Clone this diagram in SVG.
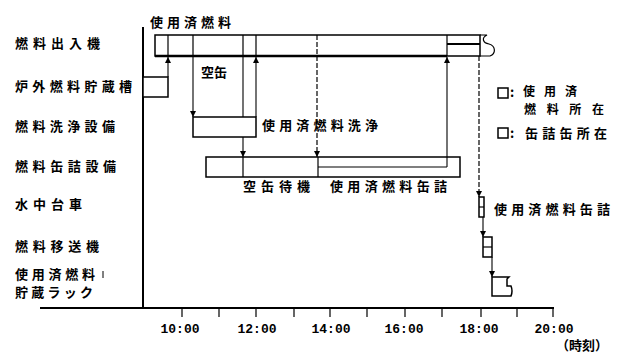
<svg xmlns="http://www.w3.org/2000/svg" width="618" height="356" viewBox="0 0 618 356">
<style>
.t{font-family:"Noto Sans CJK JP","Noto Sans CJK SC",sans-serif;font-size:13px;font-weight:700;fill:#000}
.s{font-size:12px}
.n{font-family:"Liberation Mono",monospace;font-size:13px;font-weight:700;fill:#000;text-anchor:middle}
.b{fill:#fff;stroke:#000;stroke-width:1.5}
.l{stroke:#000;stroke-width:1.2;fill:none}
.d{stroke:#000;stroke-width:1.2;fill:none;stroke-dasharray:5 2}
.c{stroke:#000;stroke-width:1.1;fill:none}
</style>
<defs>
<marker id="ah" viewBox="0 0 8 8" refX="8" refY="4" markerWidth="6" markerHeight="7" markerUnits="userSpaceOnUse" orient="auto"><path d="M0,0 L8,4 L0,8 z" fill="#000"/></marker>
</defs>
<rect width="618" height="356" fill="#fff"/>

<g id="axis">
<line x1="40" y1="308" x2="554" y2="308" stroke="#000" stroke-width="2"/>
<line x1="143" y1="27" x2="143" y2="308" stroke="#000" stroke-width="2"/>
<path class="l" d="M182,308V317M219,308V317M256,308V317M294,308V317M330,308V317M367,308V317M405,308V317M442,308V317M481,308V317M517,308V317M553,308V317"/>
<text class="n" x="180" y="333">10:00</text>
<text class="n" x="257" y="333">12:00</text>
<text class="n" x="331" y="333">14:00</text>
<text class="n" x="404" y="333">16:00</text>
<text class="n" x="479" y="333">18:00</text>
<text class="n" x="554" y="333">20:00</text>
<text class="t" x="556" y="350">（時刻）</text>
</g>

<g id="row-labels">
<text class="t" x="15" y="48" textLength="85" lengthAdjust="spacing">燃料出入機</text>
<text class="t" x="15" y="91" textLength="117" lengthAdjust="spacing">炉外燃料貯蔵槽</text>
<text class="t" x="15" y="131" textLength="100" lengthAdjust="spacing">燃料洗浄設備</text>
<text class="t" x="15" y="171" textLength="101" lengthAdjust="spacing">燃料缶詰設備</text>
<text class="t" x="15" y="209" textLength="67" lengthAdjust="spacing">水中台車</text>
<text class="t" x="15" y="251" textLength="84" lengthAdjust="spacing">燃料移送機</text>
<text class="t" x="15" y="279" textLength="80" lengthAdjust="spacing">使用済燃料</text>
<line x1="103" y1="271" x2="103" y2="278" stroke="#000" stroke-width="1"/>
<text class="t" x="15" y="297" textLength="78" lengthAdjust="spacing">貯蔵ラック</text>
</g>

<g id="node-fuel-handling">
<rect class="b" x="155" y="35" width="325" height="21"/>
<line x1="155" y1="56" x2="447" y2="56" stroke="#000" stroke-width="2.5"/>
<path class="l" d="M168,35V56M193,35V56M243,35V56M256,35V56M447,35V56"/>
<path class="d" d="M317,35V56"/>
<line x1="447" y1="44" x2="480" y2="44" stroke="#000" stroke-width="2"/>
<path class="l" d="M480,35H487C481,38 483,43 489,44C496,46 496,54 490,56H480"/>
<text class="t" x="150" y="27" textLength="81" lengthAdjust="spacing">使用済燃料</text>
</g>

<g id="node-pool">
<rect class="b" x="143" y="77" width="25" height="20"/>
</g>

<g id="node-washer">
<rect class="b" x="193" y="117" width="63" height="20"/>
<text class="t" x="262" y="130" textLength="116" lengthAdjust="spacing">使用済燃料洗浄</text>
</g>

<g id="node-canning">
<rect class="b" x="206" y="157" width="254" height="20"/>
<path class="l" d="M243,157V177M318,157V177M318,167H447"/>
<text class="t" x="243" y="191" textLength="67" lengthAdjust="spacing">空缶待機</text>
<text class="t" x="330" y="191" textLength="117" lengthAdjust="spacing">使用済燃料缶詰</text>
</g>

<g id="node-cart">
<rect class="b" x="479" y="197" width="5" height="20"/>
<line class="l" x1="479" y1="207" x2="484" y2="207"/>
<text class="t" x="494" y="214" textLength="116" lengthAdjust="spacing">使用済燃料缶詰</text>
</g>

<g id="node-transfer">
<rect class="b" x="483" y="237" width="9" height="20"/>
<line class="l" x1="483" y1="247" x2="492" y2="247"/>
</g>

<g id="node-rack">
<path class="b" d="M492,277H509L507,279V286H511Q513,291 511,296H492Z"/>
</g>

<g id="legend">
<rect class="b" x="498" y="88" width="10" height="10"/>
<text class="t" x="510" y="97">:</text>
<text class="t s" x="523" y="96" textLength="54" lengthAdjust="spacing">使用済</text>
<text class="t s" x="524" y="114" textLength="80" lengthAdjust="spacing">燃料所在</text>
<rect class="b" x="498" y="128" width="10" height="10"/>
<text class="t" x="510" y="138">:</text>
<text class="t" x="525" y="138" textLength="82" lengthAdjust="spacing">缶詰缶所在</text>
</g>

<g id="connectors">
<path class="c" d="M168,77V57" marker-end="url(#ah)"/>
<path class="c" d="M193,56V117" marker-end="url(#ah)"/>
<path class="c" d="M243,56V117M243,137V157" marker-end="url(#ah)"/>
<text class="t" x="201" y="77" textLength="26" lengthAdjust="spacing">空缶</text>
<path class="c" d="M256,117V57" marker-end="url(#ah)"/>
<path class="d" d="M317,56V157" marker-end="url(#ah)"/>
<path class="c" d="M447,167V57" marker-end="url(#ah)"/>
<path class="d" d="M479,56V197" marker-end="url(#ah)"/>
<path class="c" d="M483,217V237" marker-end="url(#ah)"/>
<path class="c" d="M492,257V277" marker-end="url(#ah)"/>
</g>
</svg>
